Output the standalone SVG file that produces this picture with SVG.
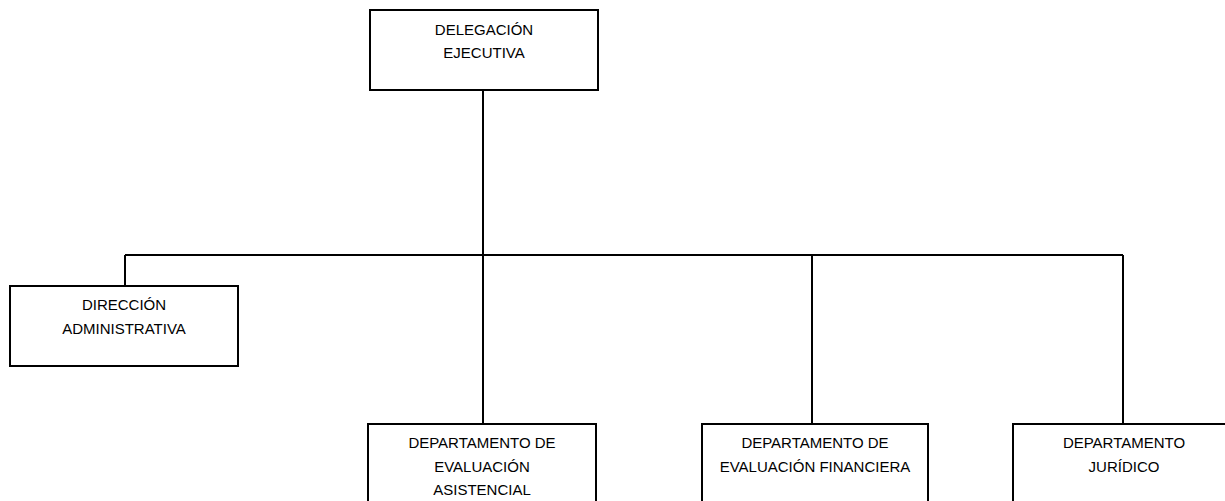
<svg xmlns="http://www.w3.org/2000/svg" width="1225" height="501" viewBox="0 0 1225 501">
<style>
.box{fill:#fff;stroke:#000;stroke-width:2}
.ln{fill:none;stroke:#000;stroke-width:2}
text{font-family:"Liberation Sans",Arial,sans-serif;font-size:15px;fill:#000;text-anchor:middle}
</style>
<rect width="1225" height="501" fill="#fff"/>
<g id="connectors">
<path class="ln" d="M483 90V424"/>
<path class="ln" d="M125 255H1123"/>
<path class="ln" d="M125 255V286"/>
<path class="ln" d="M812 255V424"/>
<path class="ln" d="M1123 255V424"/>
</g>
<g id="delegacion">
<rect class="box" x="370" y="10" width="228" height="80"/>
<text x="484" y="35">DELEGACIÓN</text>
<text x="484" y="58">EJECUTIVA</text>
</g>
<g id="direccion">
<rect class="box" x="10" y="286" width="228" height="80"/>
<text x="124" y="310">DIRECCIÓN</text>
<text x="124" y="334">ADMINISTRATIVA</text>
</g>
<g id="asistencial">
<rect class="box" x="368" y="424" width="228" height="90"/>
<text x="482" y="448">DEPARTAMENTO DE</text>
<text x="482" y="472">EVALUACIÓN</text>
<text x="482" y="495">ASISTENCIAL</text>
</g>
<g id="financiera">
<rect class="box" x="702" y="424" width="226" height="90"/>
<text x="815" y="448">DEPARTAMENTO DE</text>
<text x="815" y="472">EVALUACIÓN FINANCIERA</text>
</g>
<g id="juridico">
<rect class="box" x="1013" y="424" width="226" height="90"/>
<text x="1124" y="448">DEPARTAMENTO</text>
<text x="1124" y="472">JURÍDICO</text>
</g>
</svg>
